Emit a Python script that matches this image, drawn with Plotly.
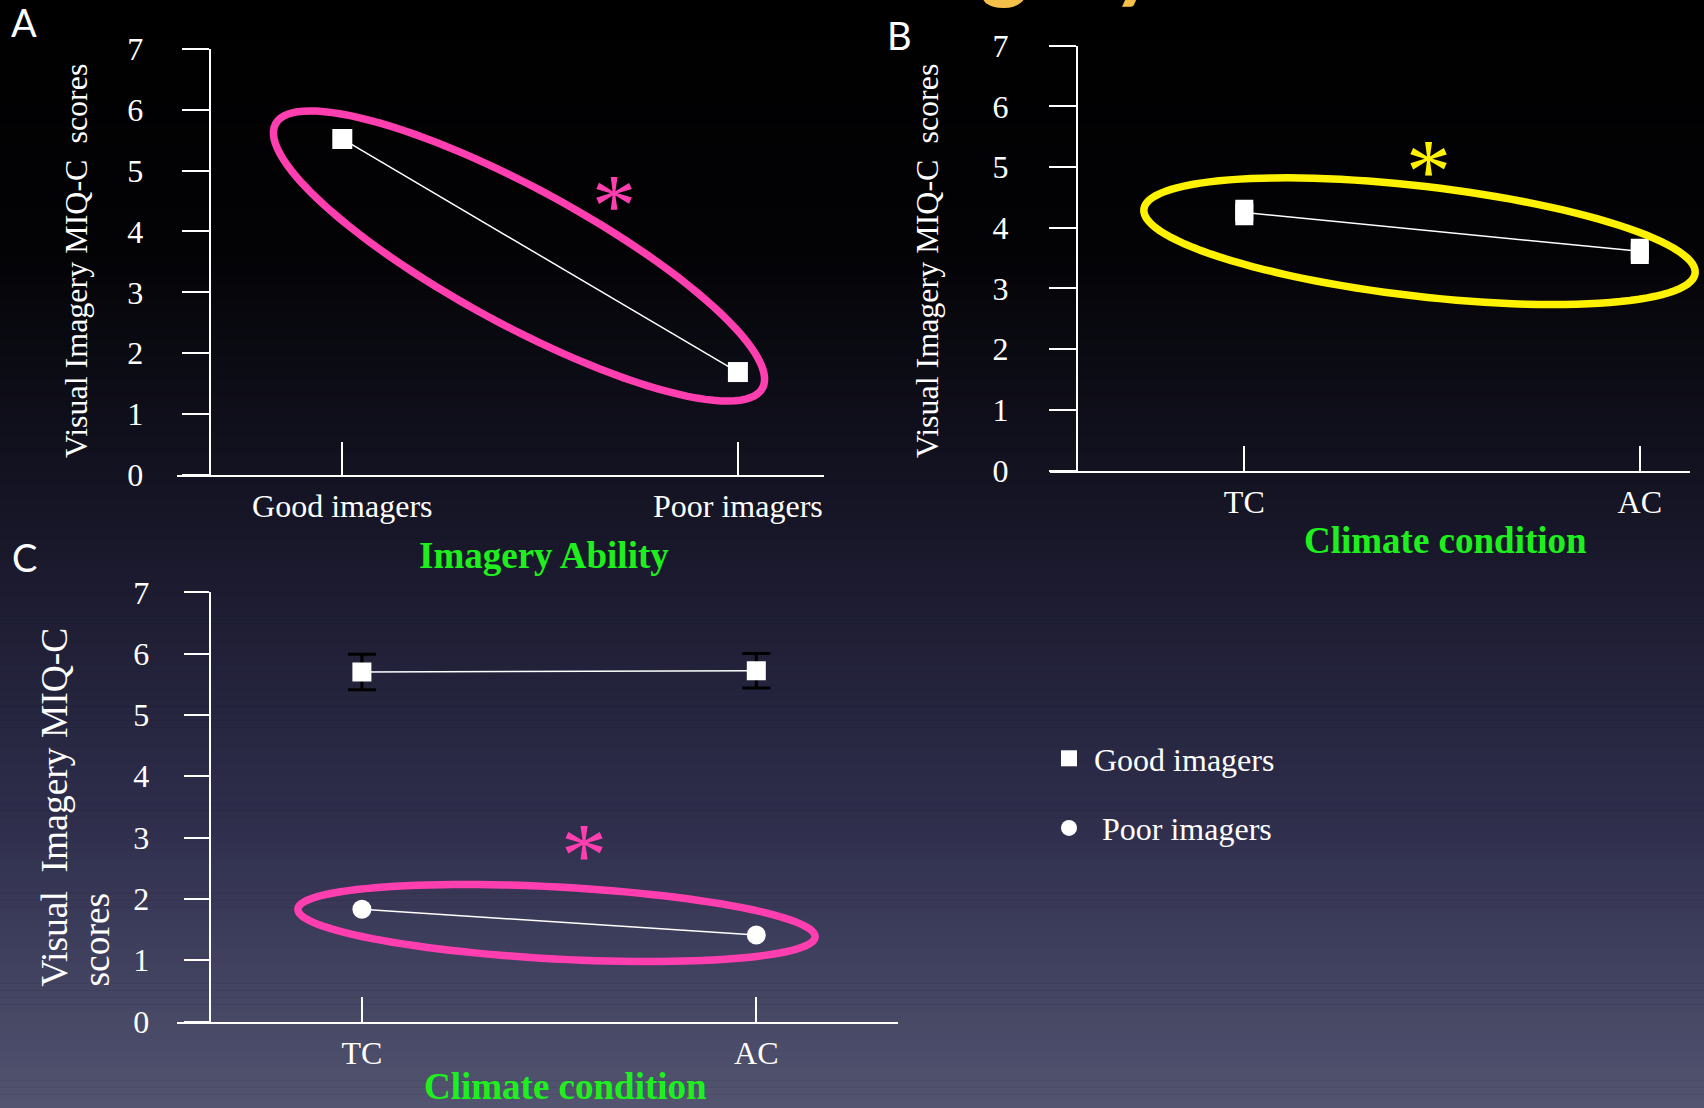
import numpy as np
import plotly.graph_objects as go

W, H = 1704, 1108

# ---------------- data ----------------
ability_categories = ["Good imagers", "Poor imagers"]
ability_scores = [5.52, 1.69]

climate_categories = ["TC", "AC"]
climate_scores = [4.25, 3.61]
climate_err = [0.21, 0.21]

good_scores = [5.70, 5.72]
good_err = [0.29, 0.28]
poor_scores = [1.83, 1.41]

y_ticks = [0, 1, 2, 3, 4, 5, 6, 7]
legend_names = ["Good imagers", "\u00a0Poor imagers"]

# ---------------- helpers ----------------
def fx(x):
    return x / W


def fy(y):
    return 1 - y / H


WHITE = "white"
GREEN = "#1ef01e"
PINK = "#ff3fb0"
YELLOW = "#fff200"
SERIF = "Liberation Serif"
SANS = "Lato"

# panel geometry in pixels
panels = {
    "A": dict(xdom=(177.1, 823.7), cats=(342.3, 737.9), ytop=48.9, ybot=474.9,
              yx=209.7, ylen=27, xlen=33, ystand=32),
    "B": dict(xdom=(1049.8, 1689.8), cats=(1244.3, 1639.8), ytop=45.6, ybot=470.5,
              yx=1076.9, ylen=27, xlen=25, ystand=34),
    "C": dict(xdom=(177.1, 897.6), cats=(361.9, 756.3), ytop=592.3, ybot=1021.5,
              yx=209.7, ylen=25, xlen=25, ystand=28),
}

fig = go.Figure()

layout = dict(
    width=W, height=H,
    margin=dict(l=0, r=0, t=0, b=0, pad=0, autoexpand=False),
    paper_bgcolor="black",
    plot_bgcolor="rgba(0,0,0,0)",
    showlegend=True,
)

cat_lists = {"A": ability_categories, "B": climate_categories, "C": climate_categories}
for i, key in enumerate(["A", "B", "C"]):
    p = panels[key]
    sfx = "" if i == 0 else str(i + 1)
    c0, c1 = p["cats"]
    unit = c1 - c0
    xr = [(p["xdom"][0] - c0) / unit, 1 + (p["xdom"][1] - c1) / unit]
    layout["xaxis" + sfx] = dict(
        domain=[fx(p["xdom"][0]), fx(p["xdom"][1])],
        range=xr, anchor="y" + sfx, automargin=False,
        showline=True, linecolor=WHITE, linewidth=2,
        ticks="inside", ticklen=p["xlen"], tickwidth=2, tickcolor=WHITE,
        tickvals=[0, 1], ticktext=cat_lists[key],
        tickfont=dict(family=SERIF, size=32, color=WHITE),
        ticklabelstandoff=2,
        showgrid=False, zeroline=False, fixedrange=True,
    )
    layout["yaxis" + sfx] = dict(
        domain=[fy(p["ybot"]), fy(p["ytop"])],
        range=[0, 7], anchor="free", position=fx(p["yx"]), automargin=False,
        showline=True, linecolor=WHITE, linewidth=2,
        ticks="outside", ticklen=p["ylen"], tickwidth=2, tickcolor=WHITE,
        tickvals=y_ticks,
        tickfont=dict(family=SERIF, size=32, color=WHITE),
        ticklabelstandoff=p["ystand"],
        showgrid=False, zeroline=False, fixedrange=True,
    )

# ---------------- traces ----------------
xcat = [0, 1]
fig.add_trace(go.Scatter(
    x=xcat, y=ability_scores, mode="lines+markers", xaxis="x", yaxis="y",
    line=dict(color=WHITE, width=1.5),
    marker=dict(symbol="square", size=20, color=WHITE),
    showlegend=False, hoverinfo="skip"))

fig.add_trace(go.Scatter(
    x=xcat, y=climate_scores, mode="lines+markers", xaxis="x2", yaxis="y2",
    line=dict(color=WHITE, width=1.5),
    marker=dict(symbol="square", size=18, color=WHITE),
    error_y=dict(type="data", array=climate_err, color=WHITE, thickness=18, width=0),
    showlegend=False, hoverinfo="skip"))

fig.add_trace(go.Scatter(
    x=xcat, y=good_scores, mode="lines+markers", xaxis="x3", yaxis="y3",
    line=dict(color=WHITE, width=1.5),
    marker=dict(symbol="square", size=19, color=WHITE),
    error_y=dict(type="data", array=good_err, color="black", thickness=3, width=14),
    showlegend=False, hoverinfo="skip"))

fig.add_trace(go.Scatter(
    x=xcat, y=poor_scores, mode="lines+markers", xaxis="x3", yaxis="y3",
    line=dict(color=WHITE, width=1.5),
    marker=dict(symbol="circle", size=19, color=WHITE),
    showlegend=False, hoverinfo="skip"))

# legend-only traces
for name, sym, grp in [(legend_names[0], "square", "g"), (legend_names[1], "circle", "p")]:
    fig.add_trace(go.Scatter(
        x=[None], y=[None], mode="markers", name=name, legendgroup=grp,
        marker=dict(symbol=sym, size=18, color=WHITE),
        xaxis="x3", yaxis="y3", hoverinfo="skip"))

layout["legend"] = dict(
    x=fx(1044), y=fy(731), xanchor="left", yanchor="top",
    bgcolor="rgba(0,0,0,0)", tracegroupgap=25, itemwidth=40,
    font=dict(family=SERIF, size=32, color=WHITE),
    itemclick=False, itemdoubleclick=False,
)

# ---------------- background gradient ----------------
stops_y = [0, 250, 590, 826, 1108]
stops_c = [(0, 0, 0), (3, 3, 6), (28, 27, 48), (47, 47, 77), (82, 84, 112)]
shapes = []
nb = 160
edges = np.linspace(0, H, nb + 1)
for k in range(nb):
    yc = 0.5 * (edges[k] + edges[k + 1])
    col = [int(round(np.interp(yc, stops_y, [c[j] for c in stops_c]))) for j in range(3)]
    shapes.append(dict(type="rect", xref="paper", yref="paper", layer="below",
                       x0=0, x1=1, y0=fy(edges[k + 1] + 0.5), y1=fy(edges[k]),
                       line=dict(width=0), fillcolor="rgb(%d,%d,%d)" % tuple(col)))

# ---------------- ellipses ----------------
def ellipse_path(cx, cy, a, b, deg, n=120):
    th = np.deg2rad(deg)
    t = np.linspace(0, 2 * np.pi, n, endpoint=False)
    xs = cx + a * np.cos(t) * np.cos(th) - b * np.sin(t) * np.sin(th)
    ys = cy + a * np.cos(t) * np.sin(th) + b * np.sin(t) * np.cos(th)
    pts = ["%.5f,%.5f" % (fx(x), fy(y)) for x, y in zip(xs, ys)]
    return "M " + " L ".join(pts) + " Z"

for (cx, cy, a, b, deg, col) in [
    (519, 256, 277, 68, 28.5, PINK),
    (1419.5, 241.2, 277.5, 55, 6.64, YELLOW),
    (556.5, 923, 259, 36, 3.08, PINK),
]:
    shapes.append(dict(type="path", xref="paper", yref="paper", layer="above",
                       path=ellipse_path(cx, cy, a, b, deg),
                       line=dict(color=col, width=7.5)))

layout["shapes"] = shapes

# ---------------- annotations ----------------
ann = []

def text(x, y, s, size, color=WHITE, family=SERIF, angle=0, xa="center", ya="middle", bold=False):
    ann.append(dict(x=fx(x), y=fy(y), xref="paper", yref="paper", text=("<b>%s</b>" % s) if bold else s,
                    showarrow=False, textangle=angle, xanchor=xa, yanchor=ya,
                    font=dict(family=family, size=size, color=color)))

# cut-off slide title at the top (only its lowest strokes are visible)
text(828, -45, "Imagery", 92, color="#f5c04a", family=SANS, xa="left", bold=True)

# panel letters
text(24, 22, "A", 38, family=SANS)
text(899, 35, "B", 38, family=SANS)
text(24, 557, "C", 38, family=SANS)

# axis titles
text(544.4, 555.3, "Imagery Ability", 37, color=GREEN, bold=True)
text(1445.3, 540.1, "Climate condition", 37, color=GREEN, bold=True)
text(565, 1086, "Climate condition", 37, color=GREEN, bold=True)

text(76, 261, "Visual Imagery MIQ-C\u00a0\u00a0scores", 32, angle=-90)
text(927, 261, "Visual Imagery MIQ-C\u00a0\u00a0scores", 32, angle=-90)
text(54.3, 989, "Visual\u00a0\u00a0Imagery MIQ-C", 37.5, angle=-90, ya="bottom")
text(95.6, 989, "scores", 37.5, angle=-90, ya="bottom")

# significance asterisks
text(614, 206, "*", 88, color=PINK)
text(1428, 172, "*", 90, color=YELLOW)
text(583.6, 855, "*", 92, color=PINK)

layout["annotations"] = ann
fig.update_layout(**layout)

fig.write_html("out.html", config={"displayModeBar": False},
               post_script="document.body.style.margin='0';document.body.style.overflow='hidden';")
